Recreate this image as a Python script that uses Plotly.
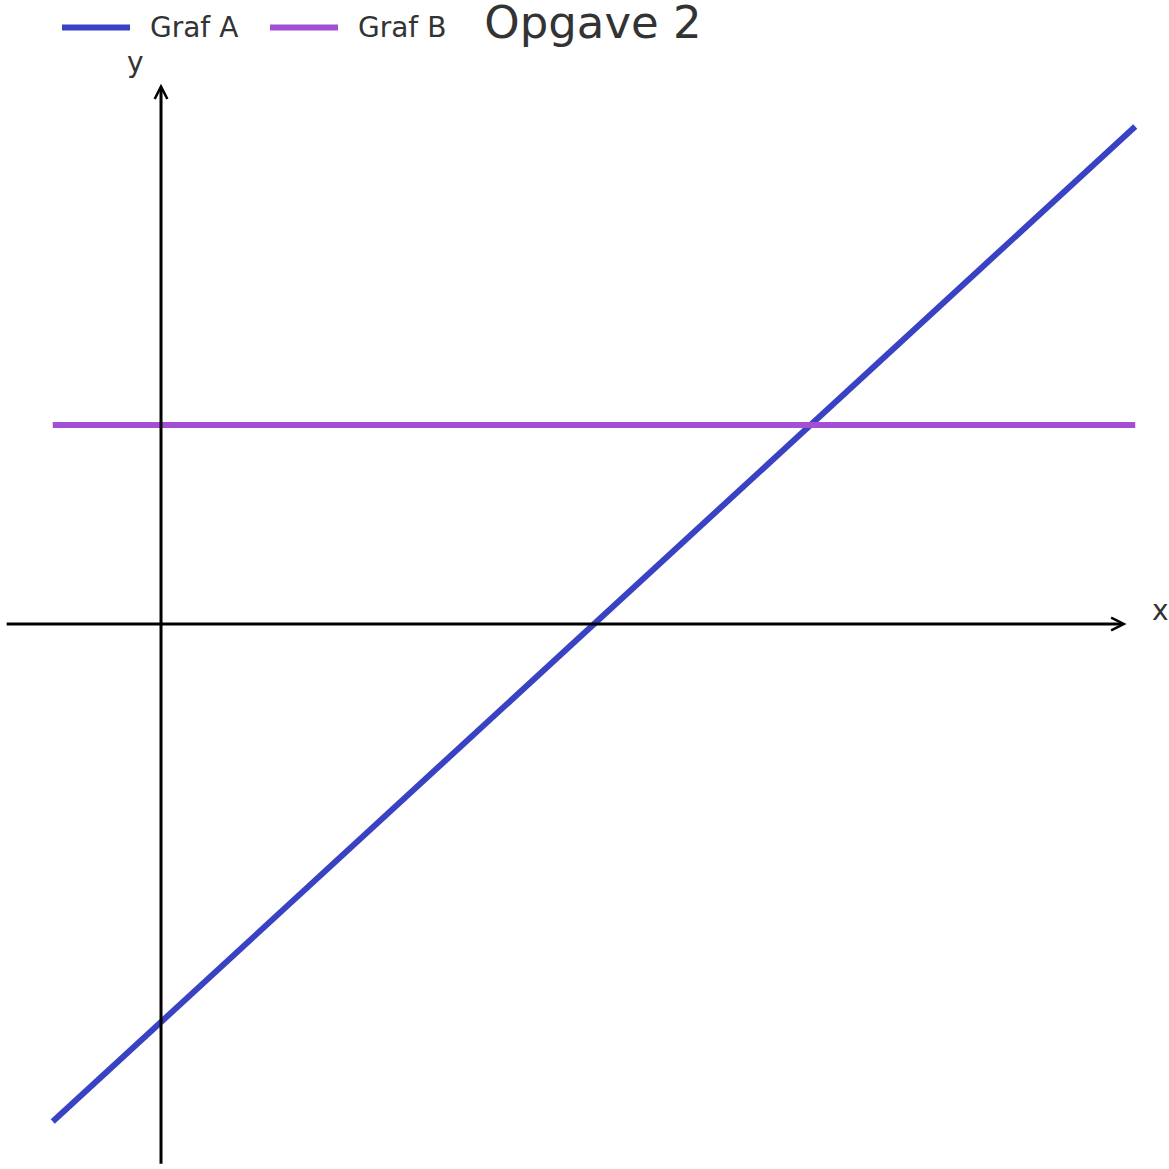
import plotly.graph_objects as go

# data
x_vals = [-0.5, 4.5]
graf_a = [-5, 5]
graf_b = [2, 2]
series_names = ["Graf A", "Graf B"]
series_colors = ["#3a42c4", "#a24fd6"]
title_text = "Opgave 2"

# axis arrow extents (data units)
x_axis_span = [-0.72, 4.46]
y_axis_span = [-5.44, 5.43]

W = H = 1169
x_range = [-0.7437, 4.656]
y_range = [-5.477, 6.271]

FONT = "DejaVu Sans"
TXT = "#333333"

fig = go.Figure()
for name, yv, col in zip(series_names, [graf_a, graf_b], series_colors):
    fig.add_trace(go.Scatter(x=x_vals, y=yv, mode="lines", name=name,
                             line=dict(color=col, width=6), showlegend=False))

annotations = [
    dict(x=x_axis_span[1], y=0, ax=x_axis_span[0], ay=0, xref="x", yref="y",
         axref="x", ayref="y", text="", showarrow=True, arrowhead=5,
         arrowsize=0.83, arrowwidth=3, arrowcolor="black", standoff=0),
    dict(x=0, y=y_axis_span[1], ax=0, ay=y_axis_span[0], xref="x", yref="y",
         axref="x", ayref="y", text="", showarrow=True, arrowhead=5,
         arrowsize=0.83, arrowwidth=3, arrowcolor="black", standoff=0),
    dict(x=1160 / W, y=1 - 610 / H, xref="paper", yref="paper", text="x",
         showarrow=False, font=dict(family=FONT, size=28, color=TXT),
         xanchor="center", yanchor="middle"),
    dict(x=135 / W, y=1 - 62 / H, xref="paper", yref="paper", text="y",
         showarrow=False, font=dict(family=FONT, size=28, color=TXT),
         xanchor="center", yanchor="middle"),
]

# manual legend (line sample + label) in paper coordinates
shapes = []
legend_line_x0 = [62, 270]
legend_text_x = [149, 357]
legend_y = 27.5
for i, name in enumerate(series_names):
    shapes.append(dict(type="line", xref="paper", yref="paper",
                       x0=legend_line_x0[i] / W, x1=(legend_line_x0[i] + 68) / W,
                       y0=1 - legend_y / H, y1=1 - legend_y / H,
                       line=dict(color=series_colors[i], width=6)))
    annotations.append(dict(x=legend_text_x[i] / W, y=1 - 28 / H, xref="paper",
                            yref="paper", text=name, showarrow=False,
                            font=dict(family=FONT, size=28, color=TXT),
                            xanchor="left", yanchor="middle", borderpad=0))

fig.update_layout(
    width=W, height=H, autosize=False,
    margin=dict(l=0, r=0, t=0, b=0),
    paper_bgcolor="white", plot_bgcolor="white",
    title=dict(text=title_text, x=593 / W, xanchor="center", xref="paper",
               y=1 - 22 / H, yanchor="middle", yref="paper",
               font=dict(family=FONT, size=45, color=TXT)),
    xaxis=dict(range=x_range, visible=False, fixedrange=True),
    yaxis=dict(range=y_range, visible=False, fixedrange=True),
    annotations=annotations,
    shapes=shapes,
    showlegend=False,
)

fig.write_html("out.html",
               config={"displayModeBar": False},
               post_script="document.body.style.margin='0px';document.body.style.padding='0px';")
